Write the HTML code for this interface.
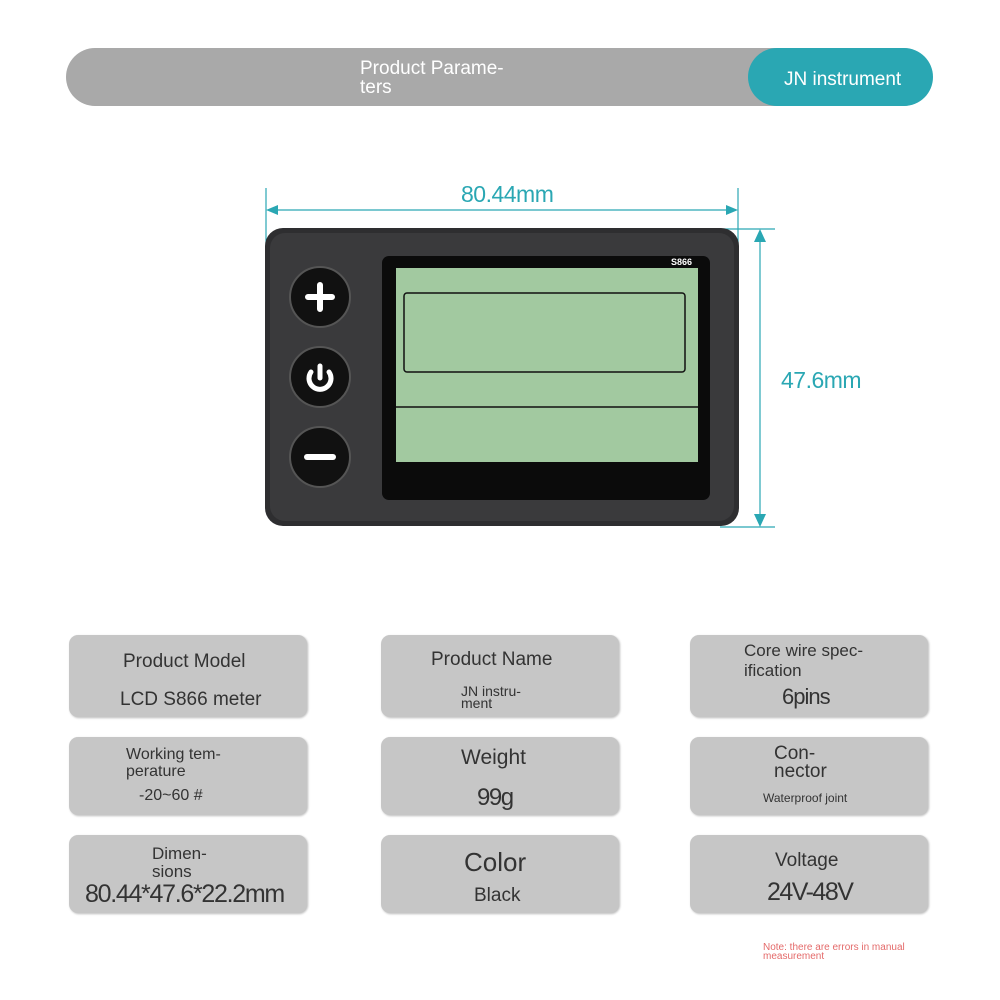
<!DOCTYPE html>
<html><head><meta charset="utf-8"><style>
body{margin:0;width:1000px;height:1000px;background:#fff;position:relative;overflow:hidden;font-family:"Liberation Sans",sans-serif;}
.a{position:absolute}
.card{position:absolute;background:#c6c6c6;border-radius:9px;box-shadow:1px 1px 2px #bbb;}
.t{position:absolute;color:#333;white-space:nowrap;line-height:1}
</style></head><body>
<div class="a" style="left:66px;top:48px;width:866px;height:58px;background:#a9a9a9;border-radius:29px"></div>
<div class="t" style="left:360px;top:59px;color:#fff;font-size:19px;line-height:19px">Product Parame-<br>ters</div>
<div class="a" style="left:748px;top:48px;width:185px;height:58px;background:#2aa7b3;border-radius:29px"></div>
<div class="t" style="left:784px;top:70px;color:#fff;font-size:19px">JN instrument</div>

<svg class="a" style="left:0;top:0" width="1000" height="600">
<g stroke="#2aa7b3" fill="#2aa7b3" stroke-width="1.2">
<line x1="266" y1="188" x2="266" y2="262"/><line x1="738" y1="188" x2="738" y2="262"/>
<line x1="268" y1="210" x2="736" y2="210"/>
<polygon points="266,210 278,205 278,215" stroke="none"/><polygon points="738,210 726,205 726,215" stroke="none"/>
<line x1="720" y1="229" x2="775" y2="229"/><line x1="720" y1="527" x2="775" y2="527"/>
<line x1="760" y1="231" x2="760" y2="525"/>
<polygon points="760,229 754,242 766,242" stroke="none"/><polygon points="760,527 754,514 766,514" stroke="none"/>
</g>
<rect x="265" y="228" width="474" height="298" rx="18" fill="#2e2e30"/>
<rect x="270" y="233" width="464" height="288" rx="15" fill="#3a3a3c"/>
<rect x="382" y="256" width="328" height="244" rx="7" fill="#0b0b0b"/>
<rect x="396" y="268" width="302" height="194" fill="#a2c9a0"/>
<rect x="404" y="293" width="281" height="79" rx="3" fill="none" stroke="#111" stroke-width="1.5"/>
<line x1="396" y1="407" x2="698" y2="407" stroke="#111" stroke-width="1.5"/>
<text x="671" y="265" fill="#fff" font-size="9" font-weight="bold" font-family="Liberation Sans">S866</text>
<g>
<circle cx="320" cy="297" r="30" fill="#111" stroke="#555" stroke-width="2"/>
<circle cx="320" cy="377" r="30" fill="#111" stroke="#555" stroke-width="2"/>
<circle cx="320" cy="457" r="30" fill="#111" stroke="#555" stroke-width="2"/>
<path d="M320 285v24M308 297h24" stroke="#fff" stroke-width="6" stroke-linecap="round"/>
<path d="M311 372a11 11 0 1 0 18 0" fill="none" stroke="#fff" stroke-width="5" stroke-linecap="round"/>
<line x1="320" y1="366" x2="320" y2="378" stroke="#fff" stroke-width="5" stroke-linecap="round"/>
<line x1="307" y1="457" x2="333" y2="457" stroke="#fff" stroke-width="6" stroke-linecap="round"/>
</g>
</svg>
<div class="t" style="left:461px;top:183px;color:#2aa7b3;font-size:23px;letter-spacing:-0.5px">80.44mm</div>
<div class="t" style="left:781px;top:369px;color:#2aa7b3;font-size:23px;letter-spacing:-0.5px">47.6mm</div>

<div class="card" style="left:69px;top:635px;width:238px;height:82px"></div>
<div class="card" style="left:381px;top:635px;width:238px;height:82px"></div>
<div class="card" style="left:690px;top:635px;width:238px;height:82px"></div>
<div class="card" style="left:69px;top:737px;width:238px;height:78px"></div>
<div class="card" style="left:381px;top:737px;width:238px;height:78px"></div>
<div class="card" style="left:690px;top:737px;width:238px;height:78px"></div>
<div class="card" style="left:69px;top:835px;width:238px;height:78px"></div>
<div class="card" style="left:381px;top:835px;width:238px;height:78px"></div>
<div class="card" style="left:690px;top:835px;width:238px;height:78px"></div>

<div class="t" style="left:123px;top:652px;font-size:19px">Product Model</div>
<div class="t" style="left:120px;top:690px;font-size:19px">LCD S866 meter</div>
<div class="t" style="left:431px;top:650px;font-size:19px">Product Name</div>
<div class="t" style="left:461px;top:685px;font-size:14px;line-height:12px">JN instru-<br>ment</div>
<div class="t" style="left:744px;top:641px;font-size:17px;line-height:20px">Core wire spec-<br>ification</div>
<div class="t" style="left:782px;top:686px;font-size:22px;letter-spacing:-1px">6pins</div>

<div class="t" style="left:126px;top:746px;font-size:16px;line-height:17px">Working tem-<br>perature</div>
<div class="t" style="left:139px;top:788px;font-size:16px">-20~60 #</div>
<div class="t" style="left:461px;top:747px;font-size:21px">Weight</div>
<div class="t" style="left:477px;top:786px;font-size:24px;letter-spacing:-1.5px">99g</div>
<div class="t" style="left:774px;top:745px;font-size:19px;line-height:18px">Con-<br>nector</div>
<div class="t" style="left:763px;top:792px;font-size:12px">Waterproof joint</div>

<div class="t" style="left:152px;top:845px;font-size:17px;line-height:18px">Dimen-<br>sions</div>
<div class="t" style="left:85px;top:882px;font-size:25px;letter-spacing:-1.3px">80.44*47.6*22.2mm</div>
<div class="t" style="left:464px;top:849px;font-size:26px">Color</div>
<div class="t" style="left:474px;top:886px;font-size:19px">Black</div>
<div class="t" style="left:775px;top:851px;font-size:19px">Voltage</div>
<div class="t" style="left:767px;top:880px;font-size:25px;letter-spacing:-1.5px">24V-48V</div>

<div class="t" style="left:763px;top:943px;color:#e46a6a;font-size:10px;line-height:9px">Note: there are errors in manual<br>measurement</div>
</body></html>
